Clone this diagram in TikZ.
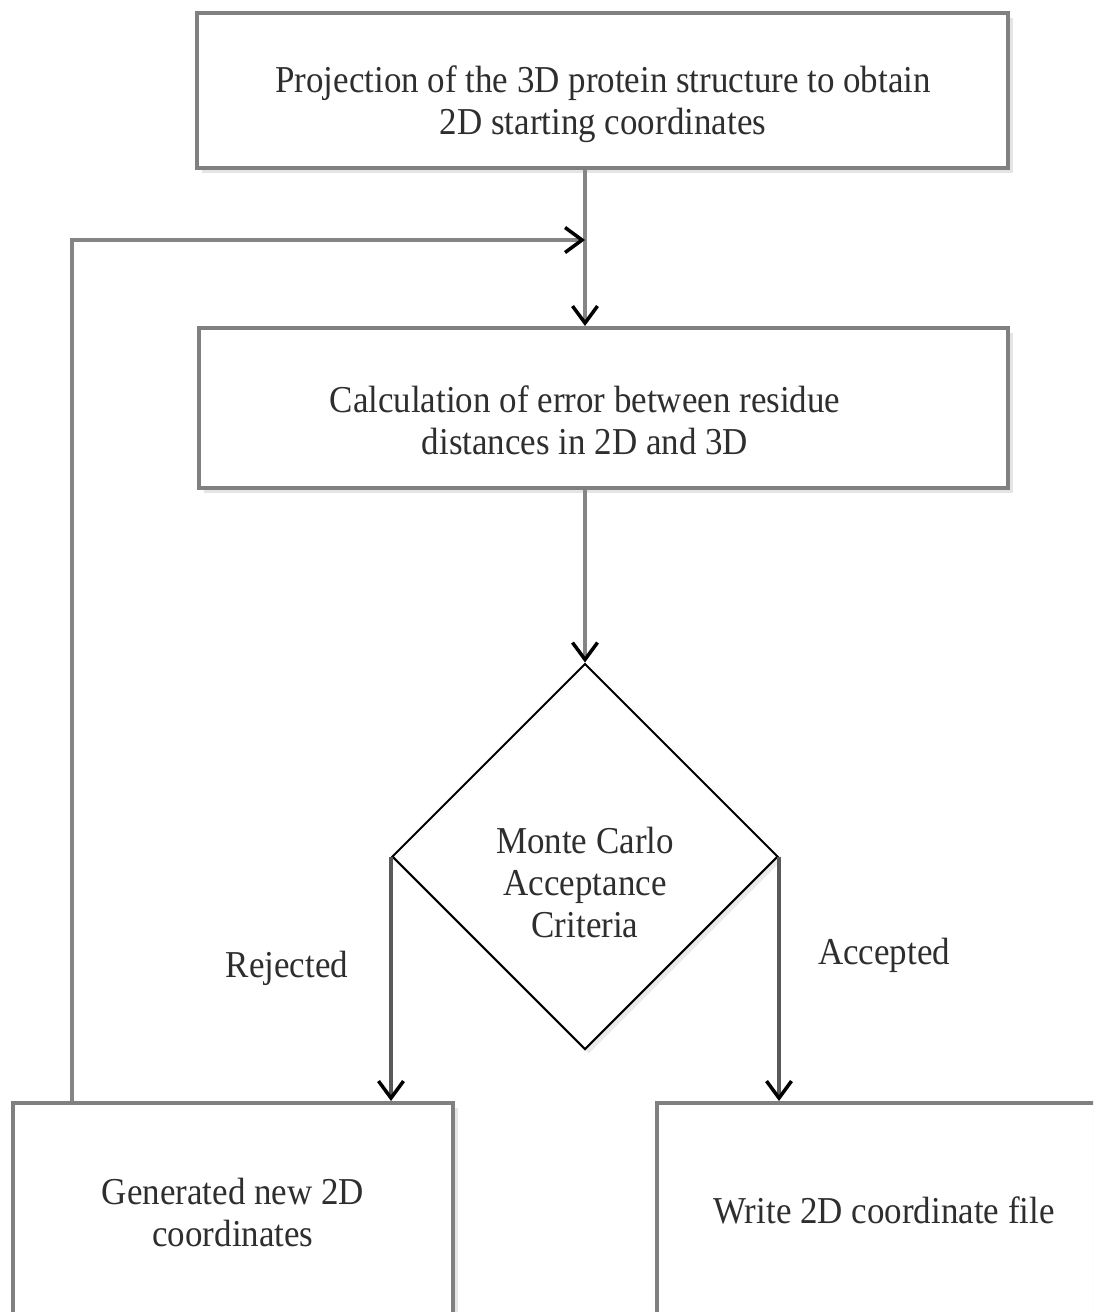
\documentclass[tikz,border=0pt]{standalone}
\usepackage{fontspec}
\setmainfont[FakeStretch=0.92]{Liberation Serif}
\usetikzlibrary{arrows.meta,shapes.geometric,shadows}
\begin{document}
\begin{tikzpicture}[x=1pt,y=-1pt,
  txt/.style={font=\fontsize{38}{42}\selectfont, text=black!82, align=center, inner sep=0pt},
  procbox/.style={draw=black!50, line width=4pt, fill=white, inner sep=0pt,
    drop shadow={shadow xshift=5pt, shadow yshift=-5pt, fill=black!10, opacity=1}},
  diam/.style={diamond, shape aspect=1, draw=black, line width=2pt, fill=white, inner sep=0pt,
    drop shadow={shadow xshift=4pt, shadow yshift=-4pt, fill=black!8, opacity=1}},
  conn/.style={draw=black!48, line width=3.5pt,
    -{Straight Barb[length=17pt, width=25pt, line width=3.5pt, color=black]}},
  connd/.style={draw=black!65, line width=3.5pt,
    -{Straight Barb[length=17pt, width=25pt, line width=3.5pt, color=black]}}
]
\useasboundingbox (0,0) rectangle (1093,1312);
\clip (0,0) rectangle (1093,1312);
\fill[white] (0,0) rectangle (1093,1312);

% boxes
\node[procbox, minimum width=811pt, minimum height=155pt] (b1) at (602.5,90.5) {};
\node[procbox, minimum width=809pt, minimum height=160pt] (b2) at (603.5,408) {};
\node[diam, minimum width=386pt, minimum height=386pt] (d) at (585,856.5) {};
\node[procbox, minimum width=440pt, minimum height=218pt] (b3) at (233,1212) {};
\node[procbox, minimum width=454pt, minimum height=218pt] (b4) at (884,1212) {};

% texts
\node[txt] (t1) at (603,104) {Projection of the 3D protein structure to obtain\\2D starting coordinates};
\node[txt] (t2) at (585,420) {Calculation of error between residue\\distances in 2D and 3D};
\node[txt] (t3) at (585,882) {Monte Carlo\\Acceptance\\Criteria};
\node[txt] (t4) at (233,1212) {Generated new 2D\\coordinates};
\node[txt] (t5) at (884,1210) {Write 2D coordinate file};
\node[txt] (rej) at (287,968) {Rejected};
\node[txt] (acc) at (884,955) {Accepted};

% connectors
\coordinate (m) at (585,240);
\coordinate (fb) at (72,240);
\draw[conn] (b1.south -| m) -- (b2.north -| m);
\draw[conn] (b3.north -| fb) -- (fb) -- (m);
\draw[conn] (b2.south -| d.north) -- (d.north);
\draw[connd] (d.west) -- (d.west |- b3.north);
\draw[connd] (d.east) -- (d.east |- b4.north);
\end{tikzpicture}
\end{document}
